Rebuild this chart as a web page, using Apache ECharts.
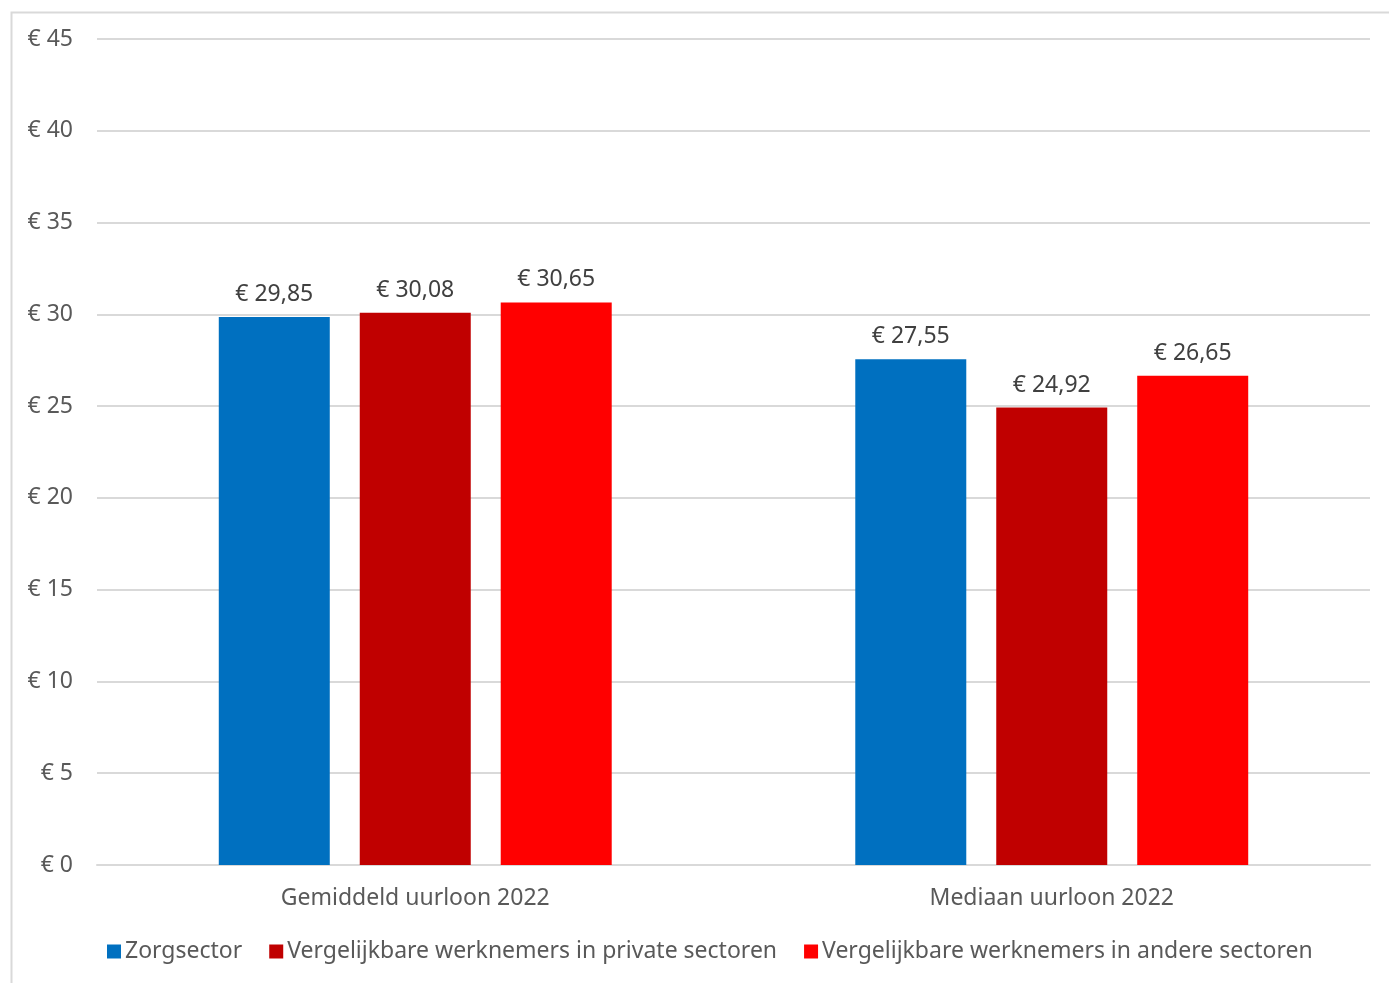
<!DOCTYPE html>
<html><head><meta charset="utf-8">
<script src="https://cdn.jsdelivr.net/npm/echarts@6/dist/echarts.min.js"></script>
<style>html,body{margin:0;padding:0;background:#fff}#c{width:1389px;height:983px}</style>
</head><body><div id="c"></div>
<script>
const categories = ['Gemiddeld uurloon 2022', 'Mediaan uurloon 2022'];
const seriesNames = ['Zorgsector', 'Vergelijkbare werknemers in private sectoren', 'Vergelijkbare werknemers in andere sectoren'];
const zorg = [29.85, 27.55];
const privaat = [30.08, 24.92];
const andere = [30.65, 26.65];
const colors = ['#0070C0', '#C00000', '#FF0000'];
const FONT = 'Noto Sans';
const FS = 23;
const fmtEuro = v => '€ ' + v.toFixed(2).replace('.', ',');
const chart = echarts.init(document.getElementById('c'));
const mk = (name, data, color) => ({
  name, type: 'bar', data, barWidth: 111, barGap: '27%',
  itemStyle: { color },
  label: { show: true, position: 'top', distance: 11, color: '#404040', fontFamily: FONT, fontSize: FS,
    formatter: p => fmtEuro(p.value) }
});
chart.setOption({
  animation: false,
  textStyle: { fontFamily: FONT },
  graphic: [{ type: 'rect', left: 9, top: 10, shape: { width: 1500, height: 1100 },
    style: { fill: 'none', stroke: '#d9d9d9', lineWidth: 2 }, silent: true, z: -1 }],
  grid: { left: 97, right: 19, top: 39, bottom: 118 },
  legend: { bottom: 15, left: 102, itemWidth: 14, itemHeight: 14, itemGap: 27,
    icon: 'rect', textStyle: { fontFamily: FONT, fontSize: FS, color: '#595959', padding: [0,0,0,-1] },
    data: seriesNames },
  xAxis: { type: 'category', data: categories,
    axisLine: { lineStyle: { color: '#d9d9d9', width: 2 } }, axisTick: { show: false },
    axisLabel: { color: '#595959', fontFamily: FONT, fontSize: FS, margin: 22 } },
  yAxis: { type: 'value', min: 0, max: 45, interval: 5,
    axisLine: { show: false }, axisTick: { show: false },
    splitLine: { lineStyle: { color: '#d9d9d9', width: 2 } },
    axisLabel: { color: '#595959', fontFamily: FONT, fontSize: FS, margin: 24, formatter: v => '€ ' + v } },
  series: [mk(seriesNames[0], zorg, colors[0]), mk(seriesNames[1], privaat, colors[1]), mk(seriesNames[2], andere, colors[2])]
});
</script></body></html>
